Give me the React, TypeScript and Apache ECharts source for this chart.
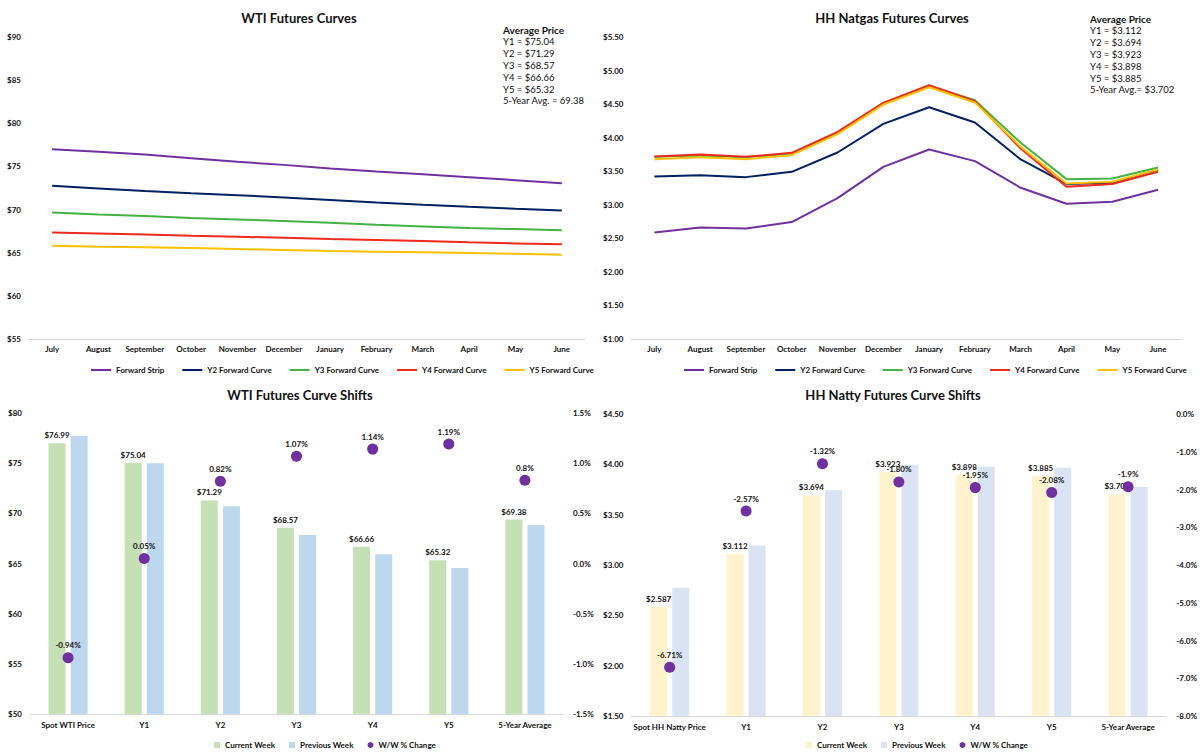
import React, { useEffect, useRef } from "react";
import * as echarts from "echarts";

const months = ["July", "August", "September", "October", "November", "December", "January", "February", "March", "April", "May", "June"];
const curveNames = ["Forward Strip", "Y2 Forward Curve", "Y3 Forward Curve", "Y4 Forward Curve", "Y5 Forward Curve"];
const curveColors = ["#7030a0", "#002060", "#44b144", "#f0281e", "#ffc000"];

const wtiStrip = [76.99, 76.69, 76.38, 75.96, 75.53, 75.18, 74.76, 74.41, 74.10, 73.76, 73.41, 73.06];
const wtiY2 = [72.75, 72.44, 72.14, 71.90, 71.67, 71.40, 71.10, 70.82, 70.56, 70.32, 70.10, 69.90];
const wtiY3 = [69.67, 69.44, 69.25, 69.02, 68.86, 68.67, 68.47, 68.24, 68.05, 67.86, 67.74, 67.59];
const wtiY4 = [67.35, 67.24, 67.12, 66.97, 66.85, 66.74, 66.58, 66.47, 66.35, 66.20, 66.08, 65.97];
const wtiY5 = [65.81, 65.70, 65.62, 65.54, 65.43, 65.31, 65.19, 65.12, 65.04, 64.96, 64.88, 64.77];

const hhStrip = [2.587, 2.663, 2.648, 2.742, 3.099, 3.565, 3.823, 3.650, 3.253, 3.015, 3.045, 3.223];
const hhY2 = [3.422, 3.441, 3.412, 3.491, 3.779, 4.205, 4.453, 4.225, 3.675, 3.31, 3.33, 3.52];
const hhY3 = [3.714, 3.734, 3.709, 3.764, 4.071, 4.518, 4.776, 4.558, 3.923, 3.382, 3.392, 3.556];
const hhY4 = [3.719, 3.749, 3.714, 3.774, 4.086, 4.518, 4.781, 4.543, 3.838, 3.268, 3.308, 3.491];
const hhY5 = [3.680, 3.709, 3.680, 3.739, 4.052, 4.493, 4.751, 4.523, 3.863, 3.318, 3.342, 3.526];

const wtiAvgLines = ["Y1 = $75.04", "Y2 = $71.29", "Y3 = $68.57", "Y4 = $66.66", "Y5 = $65.32", "5-Year Avg. = 69.38"];
const hhAvgLines = ["Y1 = $3.112", "Y2 = $3.694", "Y3 = $3.923", "Y4 = $3.898", "Y5 = $3.885", "5-Year Avg.= $3.702"];

const wtiCats = ["Spot WTI Price", "Y1", "Y2", "Y3", "Y4", "Y5", "5-Year Average"];
const wtiCurrent = [76.99, 75.04, 71.29, 68.57, 66.66, 65.32, 69.38];
const wtiPrevious = [77.72, 75.0, 70.71, 67.84, 65.91, 64.55, 68.83];
const wtiChange = [-0.94, 0.05, 0.82, 1.07, 1.14, 1.19, 0.83];
const wtiChangeLabels = ["-0.94%", "0.05%", "0.82%", "1.07%", "1.14%", "1.19%", "0.8%"];

const hhCats = ["Spot HH Natty Price", "Y1", "Y2", "Y3", "Y4", "Y5", "5-Year Average"];
const hhCurrent = [2.587, 3.112, 3.694, 3.923, 3.898, 3.885, 3.702];
const hhPrevious = [2.773, 3.194, 3.743, 3.995, 3.976, 3.967, 3.774];
const hhChange = [-6.71, -2.57, -1.32, -1.8, -1.95, -2.08, -1.93];
const hhChangeLabels = ["-6.71%", "-2.57%", "-1.32%", "-1.80%", "-1.95%", "-2.08%", "-1.9%"];

const FONT = "Lato, 'Open Sans', sans-serif";
const TXT = "#111";

function titleGraphic(text: string, x: number, y: number) {
  return {
    type: "text",
    x,
    y,
    style: { text, textAlign: "center", textVerticalAlign: "middle", fontSize: 13, fontWeight: "bold", fontFamily: FONT, fill: TXT },
  };
}

function avgGraphic(lines: string[], x: number, y: number) {
  const els: any[] = [
    { type: "text", x, y, style: { text: "Average Price", textVerticalAlign: "middle", fontSize: 10, fontWeight: "bold", fontFamily: FONT, fill: TXT } },
  ];
  lines.forEach((t, i) => {
    els.push({ type: "text", x, y: y + 11.8 * (i + 1), style: { text: t, textVerticalAlign: "middle", fontSize: 9.5, fontFamily: FONT, fill: TXT } });
  });
  return els;
}

function curveOption(title: string, titleX: number, avgLines: string[], avgX: number, avgY: number, data: number[][], yMin: number, yMax: number, yInt: number, yFmt: (v: number) => string, grid: any, legendLeft: number) {
  return {
    animation: false,
    textStyle: { fontFamily: FONT },
    graphic: [titleGraphic(title, titleX, 18), ...avgGraphic(avgLines, avgX, avgY)],
    grid,
    legend: {
      left: legendLeft,
      top: 361,
      icon: "rect",
      itemWidth: 20,
      itemHeight: 2,
      itemGap: 18,
      textStyle: { fontSize: 8, fontWeight: "bold", color: TXT, fontFamily: FONT },
      data: curveNames,
    },
    xAxis: {
      type: "category",
      data: months,
      axisLine: { onZero: false, lineStyle: { color: "#d9d9d9" } },
      axisTick: { show: false },
      axisLabel: { fontSize: 8, fontWeight: "bold", color: TXT, margin: 6, interval: 0 },
    },
    yAxis: {
      type: "value",
      min: yMin,
      max: yMax,
      interval: yInt,
      splitLine: { show: false },
      axisLine: { show: false },
      axisLabel: { fontSize: 8, fontWeight: "bold", color: TXT, formatter: yFmt, margin: 8 },
    },
    series: data.map((d, i) => ({
      name: curveNames[i],
      type: "line",
      data: d,
      symbol: "none",
      lineStyle: { width: 2, color: curveColors[i] },
      itemStyle: { color: curveColors[i] },
    })),
  };
}

function shiftOption(title: string, titleX: number, cats: string[], cur: number[], prev: number[], chg: number[], chgLabels: string[], colors: string[], yL: number[], yR: number[], lFmt: (v: number) => string, curFmt: (v: number) => string, grid: any, legendLeft: number) {
  return {
    animation: false,
    textStyle: { fontFamily: FONT },
    graphic: [titleGraphic(title, titleX, 17)],
    grid,
    legend: {
      left: legendLeft,
      top: 358,
      itemWidth: 6,
      itemHeight: 6,
      itemGap: 14,
      textStyle: { fontSize: 8, fontWeight: "bold", color: TXT, fontFamily: FONT },
      data: [
        { name: "Current Week", icon: "rect" },
        { name: "Previous Week", icon: "rect" },
        { name: "W/W % Change", icon: "circle" },
      ],
    },
    xAxis: {
      type: "category",
      data: cats,
      axisLine: { onZero: false, lineStyle: { color: "#d9d9d9" } },
      axisTick: { show: false },
      axisLabel: { fontSize: 8, fontWeight: "bold", color: TXT, margin: 7, interval: 0 },
    },
    yAxis: [
      {
        type: "value",
        min: yL[0],
        max: yL[1],
        interval: yL[2],
        splitLine: { show: false },
        axisLine: { show: false },
        axisLabel: { fontSize: 8, fontWeight: "bold", color: TXT, formatter: lFmt, margin: 8 },
      },
      {
        type: "value",
        min: yR[0],
        max: yR[1],
        interval: yR[2],
        splitLine: { show: false },
        axisLine: { show: false },
        axisLabel: { fontSize: 8, fontWeight: "bold", color: TXT, formatter: (v: number) => v.toFixed(1) + "%", margin: 10 },
      },
    ],
    series: [
      {
        name: "Current Week",
        type: "bar",
        data: cur,
        barWidth: 17,
        barGap: "30%",
        itemStyle: { color: colors[0] },
        label: { show: true, position: "top", distance: 4, fontSize: 8, fontWeight: "bold", color: TXT, formatter: (p: any) => curFmt(p.value) },
      },
      {
        name: "Previous Week",
        type: "bar",
        data: prev,
        barWidth: 17,
        barGap: "30%",
        itemStyle: { color: colors[1] },
      },
      {
        name: "W/W % Change",
        type: "scatter",
        yAxisIndex: 1,
        data: chg,
        symbolSize: 11,
        itemStyle: { color: "#7030a0", opacity: 1 },
        z: 5,
        label: { show: true, position: "top", distance: 3, fontSize: 8, fontWeight: "bold", color: TXT, formatter: (p: any) => chgLabels[p.dataIndex] },
      },
    ],
  };
}

function Chart({ option, style }: { option: any; style: React.CSSProperties }) {
  const ref = useRef<HTMLDivElement>(null);
  useEffect(() => {
    if (!ref.current) return;
    const chart = echarts.init(ref.current, undefined, { renderer: "svg" });
    chart.setOption(option);
    return () => chart.dispose();
  }, [option]);
  return <div ref={ref} style={{ position: "absolute", ...style }} />;
}

const optTL = curveOption(
  "WTI Futures Curves", 299, wtiAvgLines, 503, 30,
  [wtiStrip, wtiY2, wtiY3, wtiY4, wtiY5], 55, 90, 5,
  (v: number) => "$" + v.toFixed(0),
  { left: 29, right: 15, top: 37, bottom: 39 }, 86
);

const optTR = curveOption(
  "HH Natgas Futures Curves", 292, hhAvgLines, 490, 19,
  [hhStrip, hhY2, hhY3, hhY4, hhY5], 1, 5.5, 0.5,
  (v: number) => "$" + v.toFixed(2),
  { left: 29, right: 19, top: 37, bottom: 39 }, 79
);

const optBL = shiftOption(
  "WTI Futures Curve Shifts", 300, wtiCats, wtiCurrent, wtiPrevious, wtiChange, wtiChangeLabels,
  ["#c5e0b4", "#bdd7ee"], [50, 80, 5], [-1.5, 1.5, 0.5],
  (v: number) => "$" + v.toFixed(0), (v: number) => "$" + v.toFixed(2),
  { left: 30, right: 37, top: 35, bottom: 41 }, 209
);

const optBR = shiftOption(
  "HH Natty Futures Curve Shifts", 293, hhCats, hhCurrent, hhPrevious, hhChange, hhChangeLabels,
  ["#fff2cc", "#dae3f3"], [1.5, 4.5, 0.5], [-8, 0, 1],
  (v: number) => "$" + v.toFixed(2), (v: number) => "$" + v.toFixed(3),
  { left: 30, right: 33, top: 36, bottom: 39 }, 201
);

export default function App() {
  return (
    <div style={{ position: "absolute", left: 0, top: 0, width: 1200, height: 755, background: "#fff" }}>
      <Chart option={optTL} style={{ left: 0, top: 0, width: 600, height: 378 }} />
      <Chart option={optTR} style={{ left: 600, top: 0, width: 600, height: 378 }} />
      <Chart option={optBL} style={{ left: 0, top: 378, width: 600, height: 377 }} />
      <Chart option={optBR} style={{ left: 600, top: 378, width: 600, height: 377 }} />
    </div>
  );
}
